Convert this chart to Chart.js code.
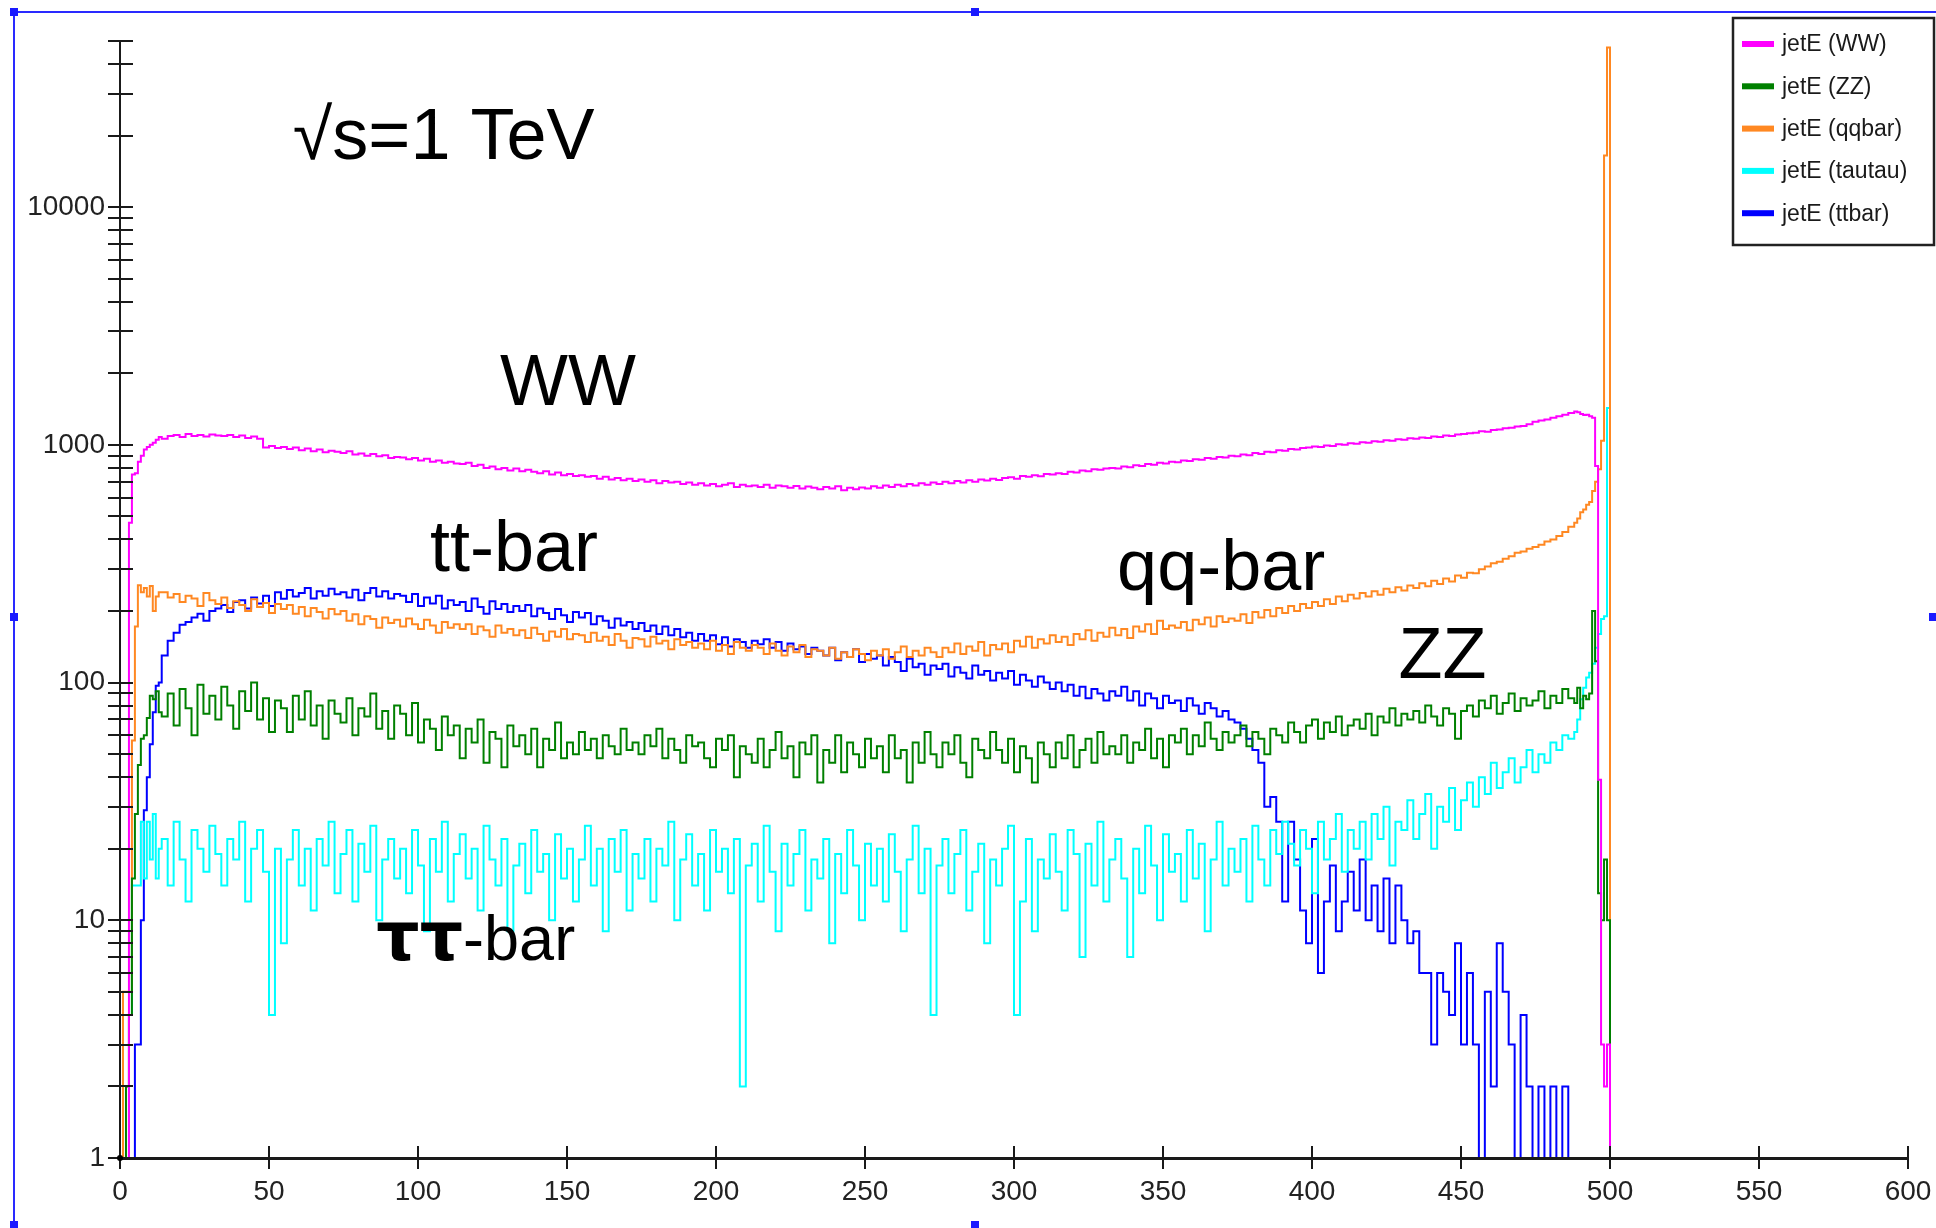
<!DOCTYPE html>
<html><head><meta charset="utf-8">
<script src="https://cdn.jsdelivr.net/npm/chart.js@4.4.1/dist/chart.umd.min.js"></script>
<style>html,body{margin:0;padding:0;background:#fff;overflow:hidden}canvas{display:block}</style>
</head><body>
<canvas id="c" width="1936" height="1228"></canvas>
<script>
// ---------- bin lower edges (GeV): 1 GeV bins 0-13, 2 GeV bins 14-486, 1 GeV bins 488-500 ----------
const binEdges = [];
for (let e = 0; e < 14; e++) binEdges.push(e);
for (let e = 14; e < 488; e += 2) binEdges.push(e);
for (let e = 488; e <= 500; e++) binEdges.push(e);
const histEnd = 501;

// ---------- series (entries per bin; 1 = empty bin drawn on the axis) ----------
const wwCounts = [
  1,1,1,470,750,760,850,900,955,980,1000,1020,1050,1080,
  1060,1090,1100,1080,1110,1090,1100,1085,1105,1095,
  1090,1100,1080,1095,1070,1085,1060,975,990,970,
  980,960,975,950,965,940,955,930,945,935,
  925,940,910,920,900,915,895,905,880,890,
  885,870,880,860,875,850,860,840,850,835,
  830,840,815,825,800,810,790,800,780,795,
  775,785,770,760,775,750,765,745,755,740,
  745,735,740,720,735,715,725,710,720,705,
  715,700,710,690,705,695,700,685,695,680,
  690,675,685,670,680,690,665,680,670,675,
  665,680,660,675,670,660,672,655,668,660,
  650,665,655,670,645,660,650,662,655,670,
  660,675,665,680,670,685,675,690,680,695,
  685,700,690,705,695,710,700,715,708,720,
  712,725,730,720,740,735,745,738,755,750,
  760,755,770,765,780,775,790,785,795,800,
  795,810,805,820,815,830,825,840,835,850,
  845,860,855,870,865,880,875,890,885,900,
  895,910,905,925,915,935,930,950,945,960,
  955,970,975,985,980,995,990,1005,1000,1015,
  1010,1025,1020,1035,1030,1045,1040,1055,1050,1065,
  1060,1075,1070,1085,1080,1095,1090,1105,1110,1120,
  1125,1140,1135,1155,1160,1175,1180,1195,1200,1220,
  1250,1265,1280,1300,1320,1340,1360,
  1380,1370,1350,1335,1340,1320,1300,815,39,3,2,3,1
];
const zzCounts = [
  1,1,2,4,15,28,45,58,60,71,88,85,92,75,
  72,90,66,94,78,60,98,74,88,70,
  96,80,64,92,76,100,70,86,62,84,
  78,62,88,70,92,66,80,58,84,74,
  68,86,60,78,72,90,64,76,58,80,
  74,60,82,56,70,64,52,72,60,66,
  48,64,56,70,46,62,58,44,66,54,
  60,50,64,44,58,52,68,48,56,50,
  62,52,58,48,60,54,50,64,52,56,
  50,60,54,64,48,58,52,46,60,54,
  56,48,44,58,52,60,40,54,50,46,
  58,44,52,62,48,54,40,56,50,60,
  38,52,46,60,42,56,50,44,58,48,
  54,42,60,48,52,38,56,46,62,50,
  44,56,50,60,46,40,58,52,48,62,
  52,46,58,42,54,48,38,56,50,44,
  56,48,60,44,52,58,46,62,50,54,
  50,60,46,56,52,64,48,58,44,60,
  56,64,50,60,54,68,58,52,62,56,
  60,66,54,62,58,50,64,60,56,68,
  62,56,66,70,58,68,62,72,60,66,
  70,64,74,60,72,68,78,66,74,70,
  76,68,80,72,66,78,74,58,76,80,
  72,84,78,88,74,82,90,76,86,80,
  84,92,78,88,82,94,86,
  82,95,78,88,85,90,200,123,13,10,18,10,1
];
const qqCounts = [
  1,5,5,5,57,172,257,240,250,230,255,200,230,240,
  240,228,236,218,232,226,210,238,222,214,
  228,206,220,212,200,224,208,216,196,214,
  204,212,195,208,190,206,198,186,204,194,
  200,182,194,176,190,185,170,188,178,184,
  172,186,176,168,184,174,162,180,170,176,
  168,176,160,172,166,156,174,162,168,158,
  166,154,170,160,150,164,156,168,152,160,
  158,148,162,150,156,144,160,150,140,154,
  152,142,156,146,150,138,152,144,148,140,
  146,138,150,136,144,132,148,140,136,144,
  140,132,146,136,130,142,134,144,128,138,
  136,130,140,126,134,128,138,132,124,136,
  130,138,126,134,142,128,136,130,140,134,
  128,140,134,146,132,142,136,148,130,144,
  138,146,134,150,142,156,140,152,146,158,
  148,156,144,160,152,166,150,162,156,170,
  158,168,154,172,164,176,160,182,168,174,
  170,180,166,184,176,188,172,190,180,186,
  182,194,178,198,188,202,190,206,196,210,
  200,214,206,218,210,224,214,230,220,234,
  226,238,230,242,234,248,240,252,244,256,
  250,262,254,268,260,274,266,282,276,290,
  288,300,308,318,322,332,340,352,356,366,
  372,380,392,400,414,430,452,
  470,490,520,535,560,575,640,700,790,1040,16500,47000,1
];
const tautauCounts = [
  1,1,1,4,14,14,14,26,15,26,18,28,15,20,
  22,14,26,18,12,24,20,16,25,19,
  14,22,18,26,12,20,24,16,4,20,
  8,18,24,14,20,11,22,17,26,13,
  19,24,12,21,16,25,10,18,22,15,
  20,13,24,17,9,22,16,26,12,19,
  23,15,20,11,25,18,14,22,9,17,
  21,13,24,16,19,10,23,15,20,12,
  18,25,14,20,9,22,16,24,11,19,
  15,22,12,20,17,26,10,18,23,14,
  19,11,24,16,20,13,22,2,17,21,
  12,25,16,9,21,14,19,24,11,18,
  15,22,8,19,13,24,17,10,21,14,
  20,12,23,16,9,18,25,13,20,4,
  17,22,13,19,24,11,16,21,8,18,
  14,20,25,4,12,22,9,18,15,23,
  16,11,24,19,7,21,14,26,12,18,
  22,15,7,20,13,25,17,10,23,16,
  19,12,24,15,21,9,18,26,14,20,
  16,22,12,25,18,14,24,19,26,21,
  17,24,20,13,26,18,22,28,16,24,
  20,26,18,28,22,30,17,26,24,32,
  22,28,34,20,30,26,36,24,32,38,
  30,40,34,46,36,42,48,38,44,52,
  42,50,46,56,52,60,58,
  62,70,85,95,105,110,120,140,160,185,190,1430,1
];
const ttbarCounts = [
  1,1,1,1,1,3,3,10,29,40,55,75,97,100,
  130,150,162,175,180,188,195,182,200,205,
  212,198,218,222,205,228,215,232,210,240,
  225,245,230,238,250,226,242,232,248,235,
  240,228,246,222,238,250,230,242,226,236,
  232,218,236,210,228,215,232,205,222,212,
  218,200,226,208,195,220,204,214,198,210,
  200,212,190,205,196,185,204,192,180,198,
  188,196,176,190,182,170,186,174,180,168,
  178,165,174,160,172,158,168,155,162,150,
  160,150,158,145,155,142,152,148,140,150,
  145,152,140,148,136,146,138,142,132,140,
  136,130,140,124,134,128,138,122,132,126,
  130,118,128,122,112,126,116,120,108,118,
  114,120,106,116,110,104,118,108,112,102,
  110,104,112,98,108,102,96,106,100,94,
  100,92,98,88,96,86,94,90,84,92,
  88,96,84,92,80,90,86,78,88,82,
  84,76,86,80,74,82,78,72,76,70,
  68,64,58,52,46,30,33,26,12,26,
  18,11,8,22,6,12,17,9,12,16,
  11,18,10,14,9,15,8,14,10,8,
  9,6,6,3,6,5,4,8,3,6,
  3,1,5,2,8,5,3,1,4,2,
  1,2,1,2,1,2,1,
  1,1,1,1,1,1,1,1,1,1,1,1,1
];

const seriesNames = ['jetE (WW)', 'jetE (ZZ)', 'jetE (qqbar)', 'jetE (tautau)', 'jetE (ttbar)'];
const seriesColors = ['#ff00ff', '#008000', '#ff8822', '#00ffff', '#0000ff'];
const seriesCounts = [wwCounts, zzCounts, qqCounts, tautauCounts, ttbarCounts];

const xTickValues = [0, 50, 100, 150, 200, 250, 300, 350, 400, 450, 500, 550, 600];
const yTickValues = [1,2,3,4,5,6,7,8,9,10,20,30,40,50,60,70,80,90,100,200,300,400,500,600,700,800,900,
  1000,2000,3000,4000,5000,6000,7000,8000,9000,10000,20000,30000,40000,50000];
const yLabelValues = [1, 10, 100, 1000, 10000];

// text annotations, anchored in data coordinates (GeV, entries) at left/baseline
const notes = [
  { text: '\u221As=1 TeV', x: 58, y: 16000 },
  { text: 'WW', x: 127.5, y: 1470 },
  { text: 'tt-bar', x: 104, y: 296 },
  { text: 'qq-bar', x: 334.6, y: 246 },
  { text: 'ZZ', x: 429, y: 105 },
  { text: '\u03C4\u03C4', rest: '-bar', x: 86, y: 6.8 }
];

function toPoints(counts) {
  const pts = counts.map((v, i) => ({ x: binEdges[i], y: v }));
  pts.push({ x: histEnd, y: 1 });
  return pts;
}

const datasets = seriesCounts.map((c, i) => ({
  label: seriesNames[i],
  data: toPoints(c),
  borderColor: seriesColors[i],
  backgroundColor: seriesColors[i],
  borderWidth: 2,
  pointRadius: 0,
  fill: false,
  stepped: 'before',
  tension: 0,
  order: i
}));

const SANS = '"Liberation Sans", Arial, sans-serif';

const chromePlugin = {
  id: 'chrome',
  beforeDraw(chart) {
    const ctx = chart.ctx;
    ctx.save();
    ctx.fillStyle = '#ffffff';
    ctx.fillRect(0, 0, chart.width, chart.height);
    ctx.restore();
  },
  afterDatasetsDraw(chart) {
    const ctx = chart.ctx;
    const xs = chart.scales.x, ys = chart.scales.y;
    const x0 = xs.getPixelForValue(0), x1 = xs.getPixelForValue(600);
    const yb = ys.getPixelForValue(1), yt = ys.getPixelForValue(50000);
    ctx.save();
    ctx.strokeStyle = '#1a1a1a';
    ctx.lineCap = 'butt';
    // y axis
    ctx.lineWidth = 2;
    ctx.beginPath(); ctx.moveTo(x0, yb); ctx.lineTo(x0, yt - 1); ctx.stroke();
    ys.ticks.forEach(t => {
      const p = Math.round(ys.getPixelForValue(t.value));
      ctx.beginPath(); ctx.moveTo(x0 - 12, p); ctx.lineTo(x0 + 13, p); ctx.stroke();
    });
    // x axis
    ctx.lineWidth = 3;
    ctx.beginPath(); ctx.moveTo(x0, yb + 0.5); ctx.lineTo(x1, yb + 0.5); ctx.stroke();
    ctx.lineWidth = 2;
    xs.ticks.forEach(t => {
      const p = Math.round(xs.getPixelForValue(t.value));
      ctx.beginPath(); ctx.moveTo(p, yb - 12); ctx.lineTo(p, yb + 11); ctx.stroke();
    });
    ctx.fillStyle = '#000';
    ctx.beginPath(); ctx.arc(x0, yb, 3, 0, Math.PI * 2); ctx.fill();

    // annotations
    ctx.fillStyle = '#000';
    ctx.textBaseline = 'alphabetic';
    ctx.textAlign = 'left';
    notes.forEach(n => {
      const px = xs.getPixelForValue(n.x), py = ys.getPixelForValue(n.y);
      if (n.rest) {
        ctx.font = 'bold 68px "DejaVu Sans", sans-serif';
        ctx.fillText(n.text, px, py);
        const w = ctx.measureText(n.text).width;
        ctx.font = '63px ' + SANS;
        ctx.fillText(n.rest, px + w, py);
      } else {
        ctx.font = '72px ' + SANS;
        ctx.fillText(n.text, px, py);
      }
    });

    // legend box
    const lx = 1733, ly = 18, lw = 201, lh = 227;
    ctx.fillStyle = '#fff';
    ctx.fillRect(lx, ly, lw, lh);
    ctx.strokeStyle = '#222';
    ctx.lineWidth = 2.5;
    ctx.strokeRect(lx, ly, lw, lh);
    ctx.font = '23px ' + SANS;
    ctx.textBaseline = 'middle';
    chart.data.datasets.forEach((ds, i) => {
      const cy = 44 + i * 42.3;
      ctx.strokeStyle = ds.borderColor;
      ctx.lineWidth = 6;
      ctx.beginPath(); ctx.moveTo(lx + 9, cy); ctx.lineTo(lx + 41, cy); ctx.stroke();
      ctx.fillStyle = '#1a1a1a';
      ctx.fillText(ds.label, lx + 49, cy + 1);
    });
    ctx.restore();
  },
  afterDraw(chart) {
    const ctx = chart.ctx;
    ctx.save();
    ctx.strokeStyle = '#2a2aff';
    ctx.lineWidth = 2;
    ctx.beginPath();
    ctx.moveTo(14, 1228); ctx.lineTo(14, 12); ctx.lineTo(1936, 12);
    ctx.stroke();
    ctx.fillStyle = '#1a1aff';
    [[14, 12], [975, 12], [14, 617], [14, 1225], [975, 1225], [1933, 617]].forEach(([hx, hy]) => {
      ctx.fillRect(hx - 4, hy - 4, 8, 8);
    });
    ctx.restore();
  }
};

new Chart(document.getElementById('c'), {
  type: 'line',
  data: { datasets },
  plugins: [chromePlugin],
  options: {
    responsive: false,
    animation: false,
    devicePixelRatio: 1,
    layout: { padding: { left: 0, right: 28, top: 41, bottom: 0 } },
    plugins: { legend: { display: false }, tooltip: { enabled: false } },
    elements: { point: { radius: 0 } },
    scales: {
      x: {
        type: 'linear', min: 0, max: 600,
        afterBuildTicks: s => { s.ticks = xTickValues.map(v => ({ value: v })); },
        afterFit: s => { s.height = 70; s.paddingRight = 0; s.paddingLeft = 0; },
        ticks: { autoSkip: false, maxRotation: 0, padding: 17, color: '#222', font: { family: SANS, size: 28 } },
        grid: { display: false, drawTicks: false },
        border: { display: false }
      },
      y: {
        type: 'logarithmic', min: 1, max: 50000,
        afterBuildTicks: s => { s.ticks = yTickValues.map(v => ({ value: v })); },
        afterFit: s => { s.width = 120; s.paddingTop = 0; s.paddingBottom = 0; },
        ticks: {
          autoSkip: false, padding: 15, color: '#222', font: { family: SANS, size: 28 },
          callback: v => (yLabelValues.includes(v) ? String(v) : '')
        },
        grid: { display: false, drawTicks: false },
        border: { display: false }
      }
    }
  }
});
</script>
</body></html>
